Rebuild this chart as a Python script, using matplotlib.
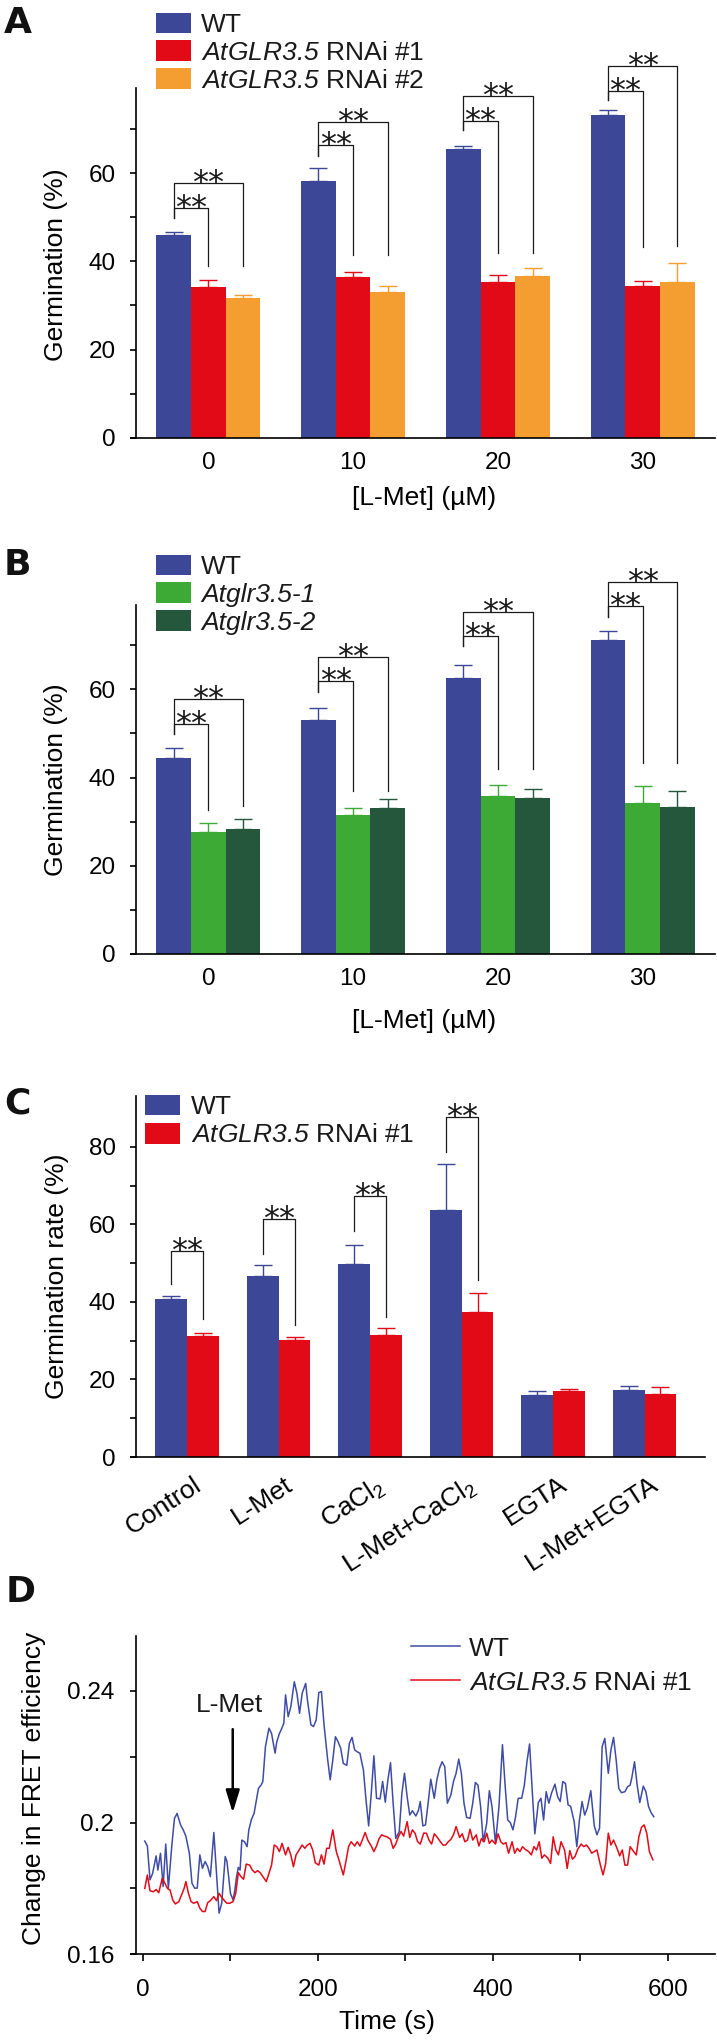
import matplotlib
matplotlib.use('Agg')
import matplotlib.pyplot as plt
import matplotlib.transforms as mtransforms
import numpy as np

plt.rcParams['font.family'] = ['Liberation Sans', 'DejaVu Sans']
plt.rcParams['mathtext.fontset'] = 'custom'
plt.rcParams['mathtext.rm'] = 'Liberation Sans'
# italic gene names: \mathsf keeps digits and dots slanted too
plt.rcParams['mathtext.sf'] = 'Liberation Sans:italic'
plt.rcParams['axes.linewidth'] = 1.2
plt.rcParams['text.color'] = '#1a1a1a'

BLUE = '#3d4798'
RED = '#e30a17'
ORANGE = '#f49e32'
LGREEN = '#3eaa36'
DGREEN = '#25573c'
LABEL_SIZE = 19
TICK_SIZE = 17.5

# ---------------- data ----------------
met_conc = ['0', '10', '20', '30']

# panel A
a_wt = [46.0, 58.1, 65.4, 73.1]
a_wt_err = [0.7, 3.0, 0.8, 1.3]
a_rnai1 = [34.1, 36.4, 35.4, 34.4]
a_rnai1_err = [1.7, 1.1, 1.6, 1.2]
a_rnai2 = [31.6, 33.1, 36.6, 35.4]
a_rnai2_err = [0.8, 1.3, 1.8, 4.3]
# bracket heights: left leg bottom, inner, outer, inner right end, outer right end
a_br_left = [49.8, 63.8, 69.8, 76.5]
a_br_inner = [52.0, 66.3, 71.9, 78.7]
a_br_outer = [57.7, 71.7, 77.5, 84.3]
a_br_end1 = [39.0, 41.5, 41.8, 43.2]
a_br_end2 = [39.0, 41.5, 41.8, 43.4]

# panel B
b_wt = [44.5, 53.1, 62.5, 71.1]
b_wt_err = [2.3, 2.7, 3.0, 2.2]
b_mut1 = [27.7, 31.6, 35.8, 34.2]
b_mut1_err = [1.9, 1.5, 2.4, 3.9]
b_mut2 = [28.4, 33.0, 35.4, 33.4]
b_mut2_err = [2.1, 2.1, 1.9, 3.6]
b_br_left = [49.8, 59.3, 69.7, 76.3]
b_br_inner = [52.1, 61.8, 72.1, 78.8]
b_br_outer = [57.7, 67.4, 77.6, 84.4]
b_br_end1 = [32.7, 37.0, 41.9, 43.2]
b_br_end2 = [33.6, 37.0, 41.9, 43.4]

# panel C
treatments = ['Control', 'L-Met', 'CaCl$_2$', 'L-Met+CaCl$_2$', 'EGTA', 'L-Met+EGTA']
c_wt = [40.8, 46.8, 49.7, 63.8, 16.1, 17.4]
c_wt_err = [0.6, 2.6, 5.0, 11.7, 1.0, 0.9]
c_rnai = [31.2, 30.1, 31.4, 37.4, 16.9, 16.3]
c_rnai_err = [0.8, 0.8, 1.8, 4.8, 0.7, 1.7]
c_br_left = [44.5, 52.4, 58.2, 78.6]
c_br_top = [53.1, 61.3, 67.2, 87.6]
c_br_end = [35.7, 34.0, 36.1, 45.7]

# panel D
wt_time = [2, 5, 8, 11, 15, 17, 20, 23, 26, 29,
           33, 36, 39, 43, 46, 49, 53, 56, 59, 62,
           65, 68, 71, 74, 77, 81, 84, 87, 90, 94,
           96, 100, 103, 105, 107, 109, 111, 113, 116, 119,
           121, 124, 127, 132, 135, 137, 140, 144, 147, 151,
           153, 156, 158, 161, 163, 166, 169, 173, 176, 179,
           182, 186, 188, 192, 195, 198, 201, 204, 207, 211,
           214, 217, 220, 223, 226, 229, 233, 236, 239, 242,
           245, 248, 252, 255, 258, 261, 264, 267, 271, 274,
           277, 280, 283, 286, 289, 293, 296, 299, 302, 305,
           308, 312, 315, 317, 320, 323, 326, 329, 333, 336,
           339, 342, 345, 348, 352, 355, 358, 361, 364, 367,
           370, 374, 377, 380, 383, 386, 389, 393, 396, 399,
           403, 407, 411, 414, 417, 420, 423, 426, 429, 433,
           436, 439, 442, 445, 448, 452, 455, 458, 461, 464,
           467, 471, 474, 477, 480, 483, 486, 489, 493, 496,
           499, 502, 505, 508, 512, 516, 519, 522, 525, 528,
           532, 535, 538, 541, 544, 547, 551, 554, 557, 559,
           562, 565, 568, 572, 575, 578, 581, 584]
wt_fret = [0.1944, 0.1929, 0.1826, 0.1846, 0.1899, 0.1856, 0.1907, 0.1806, 0.1935, 0.1801,
           0.1932, 0.2013, 0.2028, 0.1993, 0.1978, 0.1959, 0.1907, 0.1816, 0.1801, 0.1801,
           0.1902, 0.1861, 0.1882, 0.1866, 0.1836, 0.1970, 0.1846, 0.1725, 0.1755, 0.1897,
           0.1882, 0.1785, 0.1765, 0.1795, 0.1836, 0.1864, 0.1856, 0.1947, 0.1942, 0.1927,
           0.1978, 0.2010, 0.2028, 0.2104, 0.2114, 0.2125, 0.2231, 0.2287, 0.2271, 0.2211,
           0.2246, 0.2271, 0.2282, 0.2302, 0.2388, 0.2322, 0.2352, 0.2428, 0.2393, 0.2332,
           0.2393, 0.2423, 0.2373, 0.2297, 0.2292, 0.2312, 0.2395, 0.2398, 0.2297, 0.2195,
           0.2130, 0.2190, 0.2261, 0.2246, 0.2226, 0.2180, 0.2174, 0.2241, 0.2259, 0.2221,
           0.2215, 0.2211, 0.2160, 0.2069, 0.1990, 0.2089, 0.2203, 0.2074, 0.2072, 0.2125,
           0.2062, 0.2130, 0.2182, 0.2059, 0.1952, 0.1973, 0.2089, 0.2150, 0.2079, 0.2023,
           0.2036, 0.2020, 0.2038, 0.2064, 0.1990, 0.1993, 0.2059, 0.2132, 0.2074, 0.2130,
           0.2165, 0.2185, 0.2170, 0.2059, 0.2084, 0.2125, 0.2150, 0.2193, 0.2150, 0.2059,
           0.2016, 0.2013, 0.2059, 0.2122, 0.2114, 0.2049, 0.1942, 0.1998, 0.2097, 0.2049,
           0.1937, 0.2049, 0.2237, 0.2114, 0.2008, 0.2000, 0.1978, 0.2018, 0.2074, 0.2074,
           0.2114, 0.2185, 0.2239, 0.2099, 0.1966, 0.2061, 0.2074, 0.2008, 0.2094, 0.2059,
           0.2089, 0.2117, 0.2079, 0.2064, 0.2125, 0.2119, 0.2054, 0.2049, 0.2003, 0.1927,
           0.2008, 0.2064, 0.2023, 0.2044, 0.2097, 0.1990, 0.1963, 0.1983, 0.2231, 0.2256,
           0.2150, 0.2221, 0.2259, 0.2190, 0.2104, 0.2091, 0.2094, 0.2109, 0.2114, 0.2138,
           0.2185, 0.2114, 0.2061, 0.2111, 0.2094, 0.2049, 0.2030, 0.2018]

rnai_time = [2, 5, 8, 12, 15, 18, 22, 25, 28, 31,
             34, 37, 41, 44, 47, 49, 52, 55, 58, 62,
             65, 68, 71, 74, 77, 81, 84, 87, 90, 93,
             96, 99, 103, 106, 109, 112, 115, 118, 122, 125,
             128, 131, 134, 137, 141, 144, 147, 150, 153, 156,
             159, 163, 166, 169, 172, 175, 178, 182, 185, 188,
             191, 194, 197, 201, 204, 207, 210, 213, 217, 221,
             224, 229, 232, 235, 238, 242, 245, 248, 251, 254,
             257, 261, 264, 267, 270, 273, 276, 279, 283, 286,
             289, 292, 295, 298, 302, 305, 308, 311, 314, 317,
             321, 324, 327, 330, 333, 336, 340, 343, 346, 349,
             352, 355, 358, 362, 365, 368, 371, 374, 377, 381,
             384, 387, 390, 393, 396, 399, 403, 406, 409, 412,
             415, 418, 422, 425, 428, 431, 434, 437, 441, 444,
             447, 450, 453, 456, 459, 463, 466, 469, 472, 475,
             478, 482, 485, 488, 491, 494, 497, 501, 504, 507,
             510, 513, 516, 519, 523, 526, 529, 532, 535, 538,
             542, 545, 548, 551, 554, 557, 561, 564, 567, 570,
             573, 576, 579, 583]
rnai_fret = [0.1800, 0.1841, 0.1793, 0.1790, 0.1797, 0.1787, 0.1831, 0.1816, 0.1800, 0.1795,
             0.1765, 0.1753, 0.1760, 0.1780, 0.1800, 0.1821, 0.1785, 0.1760, 0.1755, 0.1760,
             0.1740, 0.1730, 0.1730, 0.1757, 0.1763, 0.1775, 0.1763, 0.1785, 0.1773, 0.1763,
             0.1755, 0.1755, 0.1760, 0.1785, 0.1848, 0.1836, 0.1828, 0.1874, 0.1871, 0.1856,
             0.1848, 0.1854, 0.1848, 0.1836, 0.1821, 0.1846, 0.1871, 0.1932, 0.1927, 0.1912,
             0.1937, 0.1902, 0.1925, 0.1902, 0.1866, 0.1902, 0.1915, 0.1932, 0.1922, 0.1932,
             0.1937, 0.1917, 0.1878, 0.1871, 0.1902, 0.1874, 0.1922, 0.1922, 0.1978, 0.1912,
             0.1887, 0.1841, 0.1882, 0.1927, 0.1942, 0.1929, 0.1942, 0.1929, 0.1949, 0.1970,
             0.1947, 0.1929, 0.1912, 0.1929, 0.1952, 0.1963, 0.1959, 0.1957, 0.1949, 0.1922,
             0.1935, 0.1957, 0.1973, 0.1959, 0.2003, 0.1955, 0.1978, 0.1968, 0.1942, 0.1935,
             0.1968, 0.1968, 0.1947, 0.1935, 0.1966, 0.1957, 0.1942, 0.1932, 0.1932, 0.1942,
             0.1949, 0.1963, 0.1988, 0.1955, 0.1966, 0.1942, 0.1947, 0.1980, 0.1947, 0.1963,
             0.1929, 0.1952, 0.1942, 0.1968, 0.1937, 0.1947, 0.1935, 0.1966, 0.1942, 0.1935,
             0.1939, 0.1907, 0.1942, 0.1907, 0.1922, 0.1912, 0.1927, 0.1919, 0.1912, 0.1902,
             0.1927, 0.1917, 0.1942, 0.1892, 0.1902, 0.1892, 0.1876, 0.1957, 0.1917, 0.1902,
             0.1942, 0.1917, 0.1861, 0.1915, 0.1889, 0.1897, 0.1919, 0.1935, 0.1927, 0.1932,
             0.1922, 0.1907, 0.1912, 0.1917, 0.1871, 0.1841, 0.1876, 0.1968, 0.1932, 0.1947,
             0.1922, 0.1899, 0.1917, 0.1871, 0.1871, 0.1927, 0.1912, 0.1902, 0.1957, 0.1986,
             0.1993, 0.1968, 0.1912, 0.1887]

lmet_time = 102.6


# ---------------- helpers ----------------
W, H = 717, 2041
fig = plt.figure(figsize=(W / 100, H / 100), dpi=100)


def px_axes(left, top, right, bottom):
    return fig.add_axes([left / W, 1 - bottom / H, (right - left) / W, (bottom - top) / H])


def style_axes(ax):
    for s in ['top', 'right']:
        ax.spines[s].set_visible(False)
    # bottom axis line runs a little past the y axis
    ax.plot([-0.011, 0], [0, 0], transform=ax.transAxes, color='k', lw=1.2,
            clip_on=False, solid_capstyle='butt')


def draw_bars(ax, centers, values, errors, color, width):
    zeros = np.zeros(len(values))
    return ax.bar(centers, values, width, color=color, zorder=2,
                  yerr=[zeros, errors],
                  error_kw=dict(ecolor=color, elinewidth=1.0, capsize=6.5, capthick=1.0, zorder=3))


def stars(ax, x, y):
    ax.annotate('**', xy=(x, y), xytext=(0, -6.5), textcoords='offset points',
                ha='center', va='baseline', fontsize=23, family='DejaVu Sans',
                color='#1a1a1a', annotation_clip=False)


def bracket(ax, x0, x1, y_left, y_top, y_end):
    ax.plot([x0, x0, x1, x1], [y_left, y_top, y_top, y_end], color='#1a1a1a',
            lw=0.9, clip_on=False, zorder=4)
    stars(ax, (x0 + x1) / 2, y_top)


def bar_panel(ax, series, colors, errs, ymax, ylabel, bw):
    x = np.arange(len(series[0]))
    offs = (np.arange(len(series)) - (len(series) - 1) / 2) * bw
    handles = []
    for vals, err, col, off in zip(series, errs, colors, offs):
        handles.append(draw_bars(ax, x + off, vals, err, col, bw))
    ax.set_ylim(0, ymax)
    ax.tick_params(axis='y', direction='out', length=4.6, width=1.2, pad=10, labelsize=TICK_SIZE)
    ax.tick_params(axis='x', length=0, pad=10, labelsize=TICK_SIZE)
    ax.set_ylabel(ylabel, fontsize=LABEL_SIZE)
    style_axes(ax)
    return x, offs, handles


def legend_box(ax, handles, labels, x, y, pitch, handlelength=1.33, textpad=0.38):
    leg = ax.legend(handles, labels, loc='upper left', bbox_to_anchor=(x / W, 1 - y / H),
                    bbox_transform=fig.transFigure, frameon=False, borderpad=0,
                    borderaxespad=0, fontsize=LABEL_SIZE, handlelength=handlelength,
                    handleheight=0.83, handletextpad=textpad, labelspacing=pitch)
    return leg


def panel_letter(x, y, s):
    fig.text(x / W, 1 - y / H, s, fontsize=26, fontweight='bold', family='DejaVu Sans',
             va='baseline', ha='left', color='#111111')


conc_ticks = list(range(0, 80, 10))
conc_ticklabels = ['0', '', '20', '', '40', '', '60', '']
rnai1_label = r'$\mathsf{AtGLR3.5}$ RNAi #1'
rnai2_label = r'$\mathsf{AtGLR3.5}$ RNAi #2'

# ---------------- panel A ----------------
axA = px_axes(136, 88, 715, 437.7)
x, offs, hA = bar_panel(axA, [a_wt, a_rnai1, a_rnai2], [BLUE, RED, ORANGE],
                        [a_wt_err, a_rnai1_err, a_rnai2_err], 79.3, 'Germination (%)', 0.24)
axA.set_xlim(-0.5, 3.5)
axA.set_xticks(x, met_conc)
axA.set_yticks(conc_ticks, conc_ticklabels)
axA.set_xlabel('[L-Met] (µM)', fontsize=LABEL_SIZE)
axA.xaxis.set_label_coords(0.497, -0.138)
axA.yaxis.set_label_coords(-0.117, 0.495)
for i in range(4):
    bracket(axA, x[i] + offs[0], x[i] + offs[1], a_br_left[i], a_br_inner[i], a_br_end1[i])
    bracket(axA, x[i] + offs[0], x[i] + offs[2], a_br_left[i], a_br_outer[i], a_br_end2[i])
legend_box(axA, hA, ['WT', rnai1_label, rnai2_label], 156, 12.5, 0.13)
panel_letter(4, 33.3, 'A')

# ---------------- panel B ----------------
axB = px_axes(136, 605, 715, 954)
x, offs, hB = bar_panel(axB, [b_wt, b_mut1, b_mut2], [BLUE, LGREEN, DGREEN],
                        [b_wt_err, b_mut1_err, b_mut2_err], 79.1, 'Germination (%)', 0.24)
axB.set_xlim(-0.5, 3.5)
axB.set_xticks(x, met_conc)
axB.set_yticks(conc_ticks, conc_ticklabels)
axB.set_xlabel('[L-Met] (µM)', fontsize=LABEL_SIZE)
axB.xaxis.set_label_coords(0.497, -0.158)
axB.yaxis.set_label_coords(-0.117, 0.5)
for i in range(4):
    bracket(axB, x[i] + offs[0], x[i] + offs[1], b_br_left[i], b_br_inner[i], b_br_end1[i])
    bracket(axB, x[i] + offs[0], x[i] + offs[2], b_br_left[i], b_br_outer[i], b_br_end2[i])
legB = legend_box(axB, hB, ['WT', 'Atglr3.5-1', 'Atglr3.5-2'], 156, 554.5, 0.13)
for t in legB.get_texts()[1:]:
    t.set_fontstyle('italic')
panel_letter(4, 575, 'B')

# ---------------- panel C ----------------
axC = px_axes(136, 1096, 705, 1457)
x, offs, hC = bar_panel(axC, [c_wt, c_rnai], [BLUE, RED], [c_wt_err, c_rnai_err],
                        93.1, 'Germination rate (%)', 0.347)
axC.set_xlim(-0.56, 5.66)
axC.set_xticks(x, treatments)
axC.tick_params(axis='x', pad=11, labelsize=LABEL_SIZE)
shift = mtransforms.ScaledTranslation(5 / 100, 0, fig.dpi_scale_trans)
for lab in axC.get_xticklabels():
    lab.set_rotation(33)
    lab.set_rotation_mode('anchor')
    lab.set_horizontalalignment('right')
    lab.set_verticalalignment('top')
    lab.set_transform(lab.get_transform() + shift)
axC.set_yticks(list(range(0, 90, 10)), ['0', '', '20', '', '40', '', '60', '', '80'])
axC.yaxis.set_label_coords(-0.118, 0.5)
for i in range(4):
    bracket(axC, x[i] + offs[0], x[i] + offs[1], c_br_left[i], c_br_top[i], c_br_end[i])
legend_box(axC, hC, ['WT', rnai1_label], 145, 1094.5, 0.15, textpad=0.42)
panel_letter(4, 1114, 'C')

# ---------------- panel D ----------------
axD = px_axes(136, 1636, 715, 1954.3)
lw, = axD.plot(wt_time, wt_fret, color='#3f4ca6', lw=1.1)
lr, = axD.plot(rnai_time, rnai_fret, color=RED, lw=1.1)
axD.set_xlim(-8, 654)
axD.set_ylim(0.16, 0.2567)
axD.set_xticks(list(range(0, 700, 100)), ['0', '', '200', '', '400', '', '600'])
axD.set_yticks([0.16, 0.18, 0.2, 0.22, 0.24], ['0.16', '', '0.2', '', '0.24'])
axD.tick_params(axis='x', direction='out', length=5.2, width=1.2, pad=12.5, labelsize=TICK_SIZE)
axD.tick_params(axis='y', direction='out', length=4.6, width=1.2, pad=11, labelsize=TICK_SIZE)
style_axes(axD)
axD.set_xlabel('Time (s)', fontsize=LABEL_SIZE)
axD.set_ylabel('Change in FRET efficiency', fontsize=LABEL_SIZE)
axD.xaxis.set_label_coords(0.434, -0.176)
axD.yaxis.set_label_coords(-0.155, 0.52)
axD.annotate('', xy=(lmet_time, 0.2030), xytext=(lmet_time, 0.2284),
             arrowprops=dict(arrowstyle='-|>,head_length=0.98,head_width=0.3', color='k',
                             lw=1.8, mutation_scale=14, shrinkA=0, shrinkB=0))
axD.text(99, 0.2337, 'L-Met', ha='center', va='baseline', fontsize=LABEL_SIZE)
legend_box(axD, [lw, lr], ['WT', rnai1_label], 411, 1636.5, 0.35,
           handlelength=1.86, textpad=0.34)
panel_letter(6, 1602, 'D')

fig.savefig('out.png', dpi=100)
